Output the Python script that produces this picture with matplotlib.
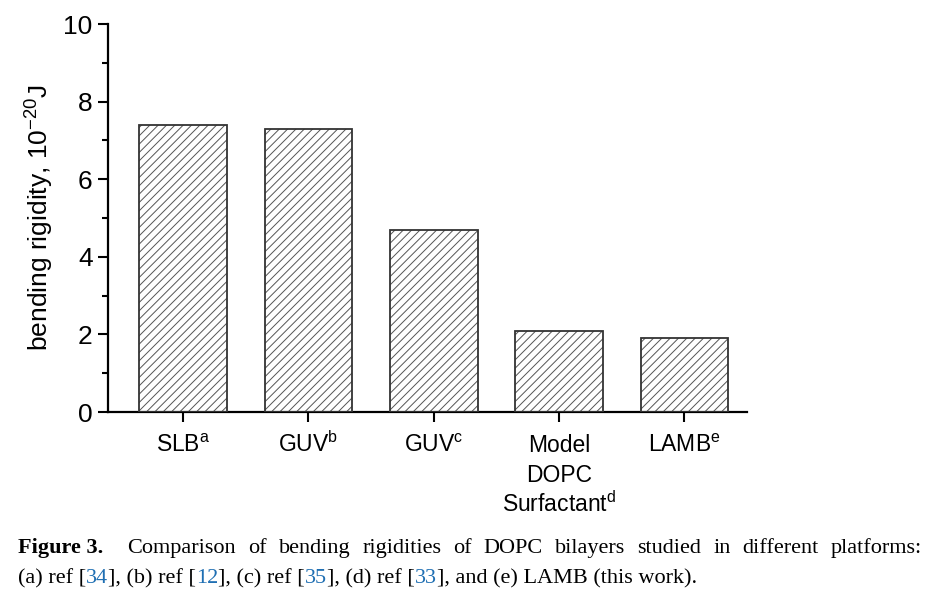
import matplotlib
matplotlib.use("Agg")
import matplotlib.pyplot as plt
import matplotlib.transforms as mtransforms
import numpy as np

# donnees
categories = [["SLB$^{\\mathregular{a}}$"], ["GUV$^{\\mathregular{b}}$"], ["GUV$^{\\mathregular{c}}$"],
              ["Model", "DOPC", "Surfactant$^{\\mathregular{d}}$"], ["LAMB$^{\\mathregular{e}}$"]]
rigidity = [7.4, 7.3, 4.7, 2.1, 1.9]
y_ticks = [0, 2, 4, 6, 8, 10]

plt.rcParams['font.family'] = ['Liberation Sans', 'DejaVu Sans']
plt.rcParams['hatch.linewidth'] = 0.7

W, H = 928, 593
fig = plt.figure(figsize=(W / 100, H / 100), dpi=100)
ax = fig.add_axes([108 / W, 1 - 412 / H, (747 - 108) / W, (412 - 24) / H])

x = np.arange(len(rigidity))
# hachures grises puis contour sombre
ax.bar(x, rigidity, width=0.7, color='white', edgecolor='#555555', hatch='////', linewidth=0, zorder=2)
ax.bar(x, rigidity, width=0.7, color='none', edgecolor='#333333', linewidth=1.3, zorder=3)

ax.set_xlim(-0.6, 4.5)
ax.set_ylim(0, 10)
ax.set_yticks(y_ticks)
ax.set_yticks([1, 3, 5, 7, 9], minor=True)
ax.set_xticks(x)
ax.set_xticklabels([])
ax.tick_params(axis='y', labelsize=19, width=1.5, length=7, pad=4)
ax.tick_params(axis='y', which='minor', width=1.5, length=4)
ax.tick_params(axis='x', width=1.5, length=7)
ax.set_ylabel("bending rigidity, 10$^{\\mathregular{-20}}$J", fontsize=19, labelpad=6)

for s in ['top', 'right']:
    ax.spines[s].set_visible(False)
for s in ['left', 'bottom']:
    ax.spines[s].set_linewidth(1.6)

# etiquettes de l'axe x placees a la main (lignes de base alignees)
trans = mtransforms.blended_transform_factory(ax.transData, fig.transFigure)
for xi, lines in zip(x, categories):
    for k, line in enumerate(lines):
        ax.text(xi, 1 - (452 + 30 * k) / H, line, transform=trans, ha='center', va='baseline',
                fontsize=16.5, clip_on=False)

# legende de la figure (ligne 1 justifiee, ligne 2 en morceaux colores)
serif = ['Liberation Serif', 'DejaVu Serif']
cap_size = 16
renderer = fig.canvas.get_renderer()
words = ["Figure 3."] + "Comparison of bending rigidities of DOPC bilayers studied in different platforms:".split()
texts = []
for i, w in enumerate(words):
    t = fig.text(0, 1 - 553 / H, w, fontsize=cap_size, family=serif,
                 fontweight='bold' if i == 0 else 'normal')
    texts.append(t)
widths = [t.get_window_extent(renderer).width for t in texts]
left, right = 18, 922
gap = (right - left - sum(widths)) / (len(words) - 1 + 1.0)
pos = left
for i, (t, wd) in enumerate(zip(texts, widths)):
    t.set_x(pos / W)
    pos += wd + (gap * 2.0 if i == 0 else gap)

pieces = [("(a) ref [", 'black'), ("34", '#1f6fb3'), ("], (b) ref [", 'black'), ("12", '#1f6fb3'),
          ("], (c) ref [", 'black'), ("35", '#1f6fb3'), ("], (d) ref [", 'black'), ("33", '#1f6fb3'),
          ("], and (e) LAMB (this work).", 'black')]
prev = fig.text(18 / W, 1 - 583 / H, pieces[0][0], fontsize=cap_size, family=serif, color=pieces[0][1])
for txt, col in pieces[1:]:
    prev = ax.annotate(txt, xy=(1, 0), xycoords=prev, va='bottom', ha='left',
                       fontsize=cap_size, family=serif, color=col, annotation_clip=False)

fig.savefig("out.png", dpi=100)
